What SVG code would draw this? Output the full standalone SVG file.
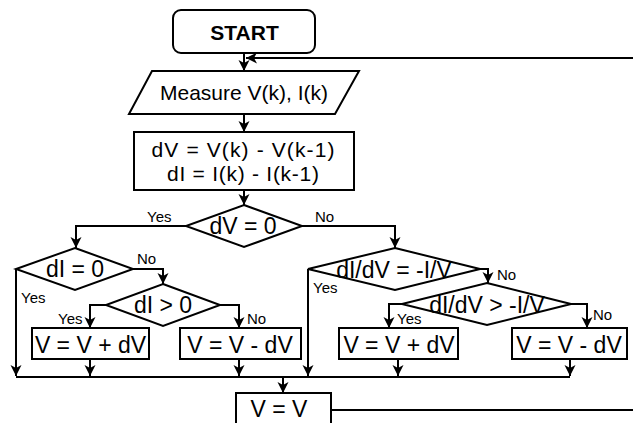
<svg xmlns="http://www.w3.org/2000/svg" width="633" height="423" viewBox="0 0 633 423">
<defs>
<marker id="arr" markerUnits="userSpaceOnUse" markerWidth="14" markerHeight="14" refX="11" refY="5.5" orient="auto" overflow="visible">
<path d="M0,0 L11,5.5 L0,11 L3,5.5 Z" fill="#000"/>
</marker>
<style>
.s{fill:#fff;stroke:#000;stroke-width:2}
.c{fill:none;stroke:#000;stroke-width:2;marker-end:url(#arr)}
.l{fill:none;stroke:#000;stroke-width:2}
text{font-family:"Liberation Sans",Arial,sans-serif;fill:#000}
.t{font-size:23px;text-anchor:middle}
.p{font-size:21px;text-anchor:middle}
.lb{font-size:15px}
</style>
</defs>
<rect width="633" height="423" fill="#fff"/>
<g id="connectors">
<path class="c" d="M244,53 L244,71"/>
<path class="c" d="M331,410 L645,410 L645,58 L246,58"/>
<path class="c" d="M244,114 L244,132"/>
<path class="c" d="M244,190 L244,205"/>
<path class="c" d="M186,226 L76,226 L76,248"/>
<path class="c" d="M302,226 L395,226 L395,248"/>
<path class="c" d="M133,269 L163,269 L163,284"/>
<path class="c" d="M16,269 L16,376"/>
<path class="c" d="M106,305 L90,305 L90,328"/>
<path class="c" d="M220,305 L239,305 L239,328"/>
<path class="c" d="M90,359 L90,376"/>
<path class="c" d="M239,359 L239,376"/>
<path class="c" d="M308,269 L308,376"/>
<path class="c" d="M480,269 L488,269 L488,283"/>
<path class="c" d="M402,304 L389,304 L389,328"/>
<path class="c" d="M571,304 L587,304 L587,328"/>
<path class="c" d="M398,359 L398,376"/>
<path class="c" d="M570,359 L570,376"/>
<path class="l" d="M16,377 L570,377"/>
<path class="c" d="M283,377 L283,393"/>
<text class="lb" x="147" y="222">Yes</text>
<text class="lb" x="315" y="222">No</text>
<text class="lb" x="137" y="264">No</text>
<text class="lb" x="21" y="303">Yes</text>
<text class="lb" x="58" y="324">Yes</text>
<text class="lb" x="247" y="324">No</text>
<text class="lb" x="313" y="293">Yes</text>
<text class="lb" x="497" y="280">No</text>
<text class="lb" x="397" y="324">Yes</text>
<text class="lb" x="593" y="320">No</text>
</g>
<g id="start">
<rect class="s" x="173" y="10" width="142" height="43" rx="8"/>
<text x="244.5" y="40" font-size="21" font-weight="bold" text-anchor="middle">START</text>
</g>
<g id="measure">
<polygon class="s" points="152,71 359,71 335,114 129,114"/>
<text x="244" y="100" font-size="21" text-anchor="middle">Measure V(k), I(k)</text>
</g>
<g id="compute">
<rect class="s" x="134" y="132" width="220" height="58"/>
<text class="p" x="243" y="157" textLength="183" lengthAdjust="spacing">dV = V(k) - V(k-1)</text>
<text class="p" x="243" y="181" textLength="152" lengthAdjust="spacing">dI = I(k) - I(k-1)</text>
</g>
<g id="dv0">
<polygon class="s" points="244,205 302,226 244,247 186,226"/>
<text class="t" x="243" y="234">dV = 0</text>
</g>
<g id="di0">
<polygon class="s" points="75,248 133,269 75,290 16,269"/>
<text class="t" x="75" y="277">dI = 0</text>
</g>
<g id="digt0">
<polygon class="s" points="163,284 220,305 163,326 106,305"/>
<text class="t" x="163" y="313">dI &gt; 0</text>
</g>
<g id="inc1">
<rect class="s" x="32" y="328" width="117" height="31"/>
<text class="t" x="90.5" y="353">V = V + dV</text>
</g>
<g id="dec1">
<rect class="s" x="180" y="328" width="121" height="31"/>
<text class="t" x="240" y="353">V = V - dV</text>
</g>
<g id="inc_cond">
<polygon class="s" points="395,248 480,269 395,290 308,269"/>
<text class="t" x="394" y="278">dI/dV = -I/V</text>
</g>
<g id="gt_cond">
<polygon class="s" points="487,283 571,304 487,325 402,304"/>
<text class="t" x="487" y="313">dI/dV &gt; -I/V</text>
</g>
<g id="inc2">
<rect class="s" x="339" y="328" width="119" height="31"/>
<text class="t" x="399" y="353">V = V + dV</text>
</g>
<g id="dec2">
<rect class="s" x="512" y="328" width="115" height="31"/>
<text class="t" x="569" y="353">V = V - dV</text>
</g>
<g id="vv">
<rect class="s" x="236" y="393" width="95" height="50"/>
<text class="t" x="279" y="417">V = V</text>
</g>
</svg>
